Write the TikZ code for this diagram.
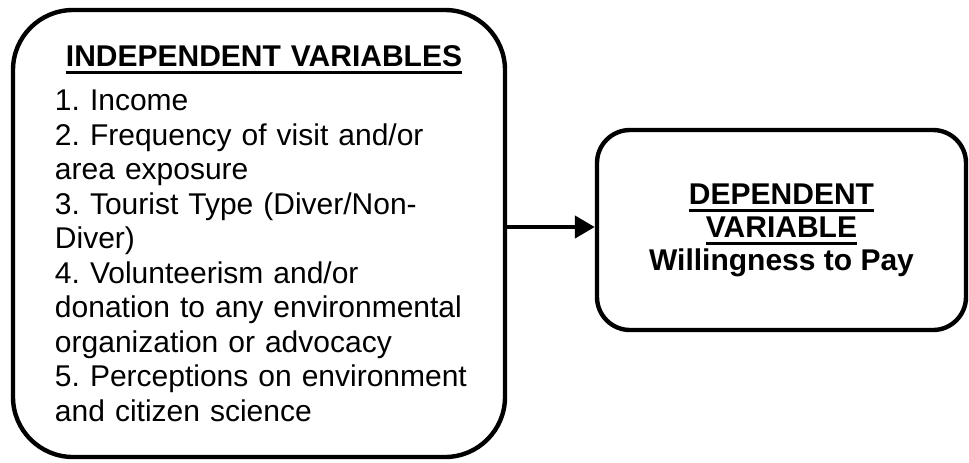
\documentclass[tikz,border=0pt]{standalone}
\usepackage{fontspec}
\setmainfont{Liberation Sans}
\usetikzlibrary{arrows.meta}
\frenchspacing
\newcommand{\thickul}[1]{\leavevmode\vtop{\hbox{#1}\kern2.2pt\hrule height 1.5pt}}
\begin{document}
\begin{tikzpicture}[x=0.5pt, y=-0.5pt,
    varbox/.style={draw, line width=2.2pt, rounded corners=#1, inner sep=0pt},
    every node/.style={font=\fontsize{15pt}{17.25pt}\selectfont}]
    \useasboundingbox (0,0) rectangle (969,462);
    \node[varbox=30pt, minimum width=246pt, minimum height=223.5pt,
        text width=215pt, align=left] (indep) at (259,233.5)
        {\hyphenpenalty=10000\leftskip=5.5pt\vspace*{5pt}
        {\centering\thickul{\textbf{INDEPENDENT VARIABLES}}\par}\vspace{-0.25pt}
        1. Income\\
        2. Frequency of visit and/or\\
        area exposure\\
        3. Tourist Type (Diver/Non-\\
        Diver)\\
        4. Volunteerism and/or\\
        donation to any environmental\\
        organization or advocacy\\
        5. Perceptions on environment\\
        and citizen science\par};
    \node[varbox=16.5pt, minimum width=184.5pt, minimum height=100pt,
        align=center, font=\bfseries\fontsize{15pt}{16.5pt}\selectfont] (dep) at (781.5,230)
        {\thickul{DEPENDENT}\\ \thickul{VARIABLE}\\ Willingness to Pay};
    \draw[line width=2.2pt, -{Triangle[length=10pt,width=11pt]}]
        ([yshift=1.5pt]indep.east |- dep.west) -- ([yshift=1.5pt]dep.west);
\end{tikzpicture}
\end{document}
